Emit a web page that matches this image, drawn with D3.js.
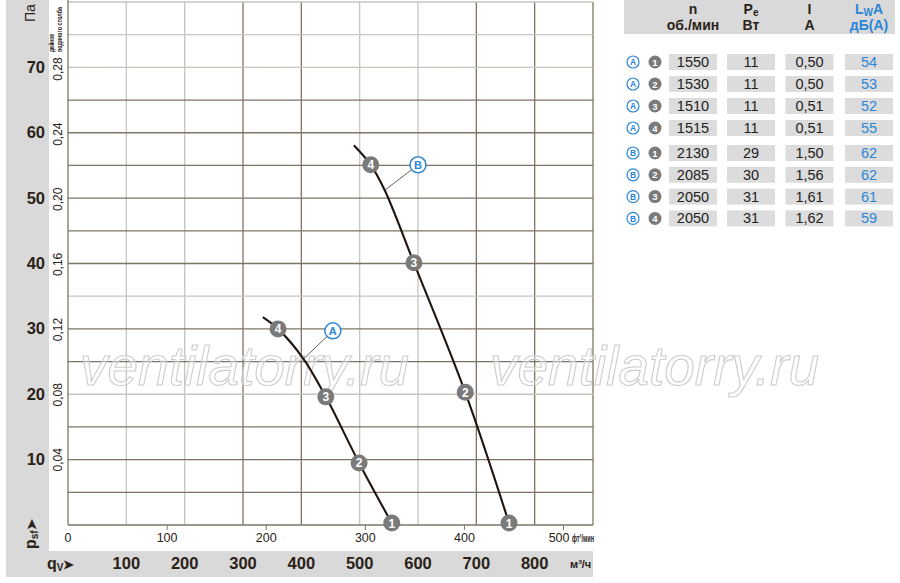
<!DOCTYPE html>
<html><head><meta charset="utf-8">
<script src="https://cdn.jsdelivr.net/npm/d3@7"></script>
<style>
html,body{margin:0;padding:0;background:#fff;}
svg{display:block;font-family:"Liberation Sans",Arial,sans-serif;}
.nar{font-family:"Liberation Sans Narrow","Liberation Sans",sans-serif;}
</style></head>
<body>
<svg id="c" width="900" height="583"></svg>
<script>
// ---- data ----
const flowTicks = [100, 200, 300, 400, 500, 600, 700, 800];          // m³/h
const cfmTicks = [0, 100, 200, 300, 400, 500];                        // ft³/min
const paTicks = [10, 20, 30, 40, 50, 60, 70];                         // Pa
const inwgTicks = [0.04, 0.08, 0.12, 0.16, 0.20, 0.24, 0.28];         // in. water
const inwgLabels = ["0,04", "0,08", "0,12", "0,16", "0,20", "0,24", "0,28"];

// curve A (flow m³/h, pressure Pa)
const curveAFlow = [334, 360, 403, 442, 499, 555];
const curveAPres = [31.8, 30.0, 25.5, 19.6, 9.5, 0.3];
const curveAPointNo = [null, 4, null, 3, 2, 1];
// curve B
const curveBFlow = [490, 519, 543, 593, 681, 756];
const curveBPres = [58.1, 55.1, 51.2, 40.1, 20.3, 0.3];
const curveBPointNo = [null, 4, null, 3, 2, 1];

// label callouts
const calloutNames = ["A", "B"];
const calloutFlow = [454, 600];
const calloutPres = [29.7, 55.1];
const calloutTargetFlow = [405, 543];
const calloutTargetPres = [25.5, 51.2];

// table
const rowCurve = ["A", "A", "A", "A", "B", "B", "B", "B"];
const rowPoint = [1, 2, 3, 4, 1, 2, 3, 4];
const rowSpeed = ["1550", "1530", "1510", "1515", "2130", "2085", "2050", "2050"];
const rowPower = ["11", "11", "11", "11", "29", "30", "31", "31"];
const rowCurrent = ["0,50", "0,50", "0,51", "0,51", "1,50", "1,56", "1,61", "1,62"];
const rowNoise = ["54", "53", "52", "55", "62", "62", "61", "59"];

// ---- drawing ----
const svg = d3.select("#c");
const BLUE = "#2a86d6", DARK = "#2a2218", GREY = "#d9d9d9", MARK = "#7a7a7a";
const GRID_D = "#7e7464", GRID_L = "#c9c4be";

const x = d3.scaleLinear().domain([0, 900]).range([68, 593]);
const y = d3.scaleLinear().domain([0, 80]).range([525, 2]);
const cfmToM3h = 1.699;

// grey bands
svg.append("rect").attr("x", 6).attr("y", 0).attr("width", 43).attr("height", 577).attr("fill", GREY);
svg.append("rect").attr("x", 6).attr("y", 551).attr("width", 587).attr("height", 26).attr("fill", GREY);

// grid
const g = svg.append("g");
const lightV = new Set([100, 200, 500, 600]);
const lightH = new Set([80, 75, 70, 35, 20]);
d3.range(100, 901, 100).forEach(v => {
  g.append("line").attr("x1", x(v)).attr("x2", x(v)).attr("y1", y(80)).attr("y2", y(0))
    .attr("stroke", lightV.has(v) ? GRID_L : GRID_D).attr("stroke-width", 1.3);
});
d3.range(5, 81, 5).forEach(v => {
  g.append("line").attr("x1", x(0)).attr("x2", x(900)).attr("y1", y(v)).attr("y2", y(v))
    .attr("stroke", lightH.has(v) ? GRID_L : GRID_D).attr("stroke-width", 1.3);
});
g.append("line").attr("x1", x(0)).attr("x2", x(0)).attr("y1", 0).attr("y2", y(0)).attr("stroke", GRID_D).attr("stroke-width", 1.3);
g.append("line").attr("x1", x(0)).attr("x2", x(900)).attr("y1", y(0)).attr("y2", y(0)).attr("stroke", GRID_D).attr("stroke-width", 1.3);

// watermark
["ventilatorry.ru", "ventilatorry.ru"].forEach((t, i) => {
  svg.append("text").attr("x", i === 0 ? 80 : 490).attr("y", 385)
    .attr("font-size", 55).attr("font-style", "italic").attr("fill", "rgba(255,255,255,0.35)")
    .attr("stroke", "#cdcdcd").attr("stroke-width", 1.1).text(t);
});

// cfm axis
const cfmAxis = svg.append("g");
cfmTicks.forEach((v, i) => {
  const px = x(v * cfmToM3h);
  const last = i === cfmTicks.length - 1;
  if (v > 0) cfmAxis.append("line").attr("x1", px).attr("x2", px).attr("y1", 525).attr("y2", 530).attr("stroke", GRID_D);
  cfmAxis.append("text").attr("class", "nar").attr("x", last ? px + 6 : px).attr("y", 542)
    .attr("text-anchor", last ? "end" : "middle")
    .attr("font-size", 12.5).attr("fill", DARK).text(v);
});
cfmAxis.append("text").attr("class", "nar").attr("x", x(500 * cfmToM3h) + 8.5).attr("y", 542).attr("font-size", 10.5)
  .attr("font-weight", "bold").attr("fill", DARK).attr("textLength", 22).attr("lengthAdjust", "spacingAndGlyphs").text("фт³/мин");

// flow axis labels in band
flowTicks.forEach(v => {
  svg.append("text").attr("class", "nar").attr("x", x(v)).attr("y", 569).attr("text-anchor", "middle")
    .attr("font-size", 16.5).attr("font-weight", "bold").attr("fill", DARK).text(v);
});
svg.append("text").attr("class", "nar").attr("x", 570).attr("y", 568).attr("font-size", 11).attr("font-weight", "bold")
  .attr("fill", DARK).text("м³/ч");
const qv = svg.append("text").attr("class", "nar").attr("x", 47).attr("y", 569).attr("font-size", 16).attr("font-weight", "bold").attr("fill", DARK);
qv.append("tspan").text("q");
qv.append("tspan").attr("font-size", 10).attr("dy", 2).text("V");
qv.append("tspan").attr("dy", -2).attr("font-size", 13).text("➤");

// Pa labels
paTicks.forEach(v => {
  svg.append("text").attr("class", "nar").attr("x", 45).attr("y", y(v) + 5.5).attr("text-anchor", "end")
    .attr("font-size", 16.5).attr("font-weight", "bold").attr("fill", DARK).text(v);
});
inwgTicks.forEach((v, i) => {
  const py = y(v * 249.09);
  svg.append("text").attr("class", "nar").attr("transform", `translate(62,${py}) rotate(-90)`).attr("text-anchor", "middle")
    .attr("font-size", 12).attr("fill", DARK).text(inwgLabels[i]);
});
svg.append("text").attr("class", "nar").attr("transform", "translate(35,22) rotate(-90)").attr("font-size", 14).attr("fill", DARK).text("Па");
svg.append("text").attr("class", "nar").attr("transform", "translate(54,52) rotate(-90)").attr("font-size", 7.5).attr("font-weight", "bold")
  .attr("fill", DARK).attr("textLength", 18).attr("lengthAdjust", "spacingAndGlyphs").text("дюймов");
svg.append("text").attr("class", "nar").attr("transform", "translate(61.5,52) rotate(-90)").attr("font-size", 7.5).attr("font-weight", "bold")
  .attr("fill", DARK).attr("textLength", 45).attr("lengthAdjust", "spacingAndGlyphs").text("водяного столба");
const psf = svg.append("text").attr("class", "nar").attr("transform", "translate(36,549) rotate(-90)").attr("font-size", 16)
  .attr("font-weight", "bold").attr("fill", DARK);
psf.append("tspan").text("p");
psf.append("tspan").attr("font-size", 10).attr("dy", 2).text("sf");
psf.append("tspan").attr("dy", -2).attr("font-size", 13).text("➤");

// curves
const line = d3.line().x(d => x(d[0])).y(d => y(d[1])).curve(d3.curveCatmullRom.alpha(0.5));
const curves = [
  [curveAFlow, curveAPres, curveAPointNo],
  [curveBFlow, curveBPres, curveBPointNo]
];
curves.forEach(([f, p]) => {
  svg.append("path").datum(f.map((v, i) => [v, p[i]])).attr("d", line)
    .attr("fill", "none").attr("stroke", "#1e1510").attr("stroke-width", 2.1);
});
// callouts
calloutNames.forEach((n, i) => {
  svg.append("line").attr("x1", x(calloutFlow[i])).attr("y1", y(calloutPres[i]))
    .attr("x2", x(calloutTargetFlow[i])).attr("y2", y(calloutTargetPres[i]))
    .attr("stroke", "#3a3530").attr("stroke-width", 0.8);
  svg.append("circle").attr("cx", x(calloutFlow[i])).attr("cy", y(calloutPres[i])).attr("r", 8)
    .attr("fill", "#fff").attr("stroke", BLUE).attr("stroke-width", 1.5);
  svg.append("text").attr("x", x(calloutFlow[i])).attr("y", y(calloutPres[i]) + 4).attr("text-anchor", "middle")
    .attr("font-size", 11).attr("font-weight", "bold").attr("fill", BLUE).text(n);
});
// point markers
curves.forEach(([f, p, nos]) => {
  nos.forEach((n, i) => {
    if (n == null) return;
    svg.append("circle").attr("cx", x(f[i])).attr("cy", y(p[i])).attr("r", 8.5).attr("fill", MARK);
    svg.append("text").attr("x", x(f[i])).attr("y", y(p[i]) + 4.5).attr("text-anchor", "middle")
      .attr("font-size", 12).attr("font-weight", "bold").attr("fill", "#fff").text(n);
  });
});

// ---- table ----
const t = svg.append("g");
t.append("rect").attr("x", 624).attr("y", 0).attr("width", 271).attr("height", 34).attr("fill", GREY);
const colX = [693, 751, 809.5, 869];
const colW = 48;
function head(xc, top, bottom, color, sub) {
  const a = t.append("text").attr("class", "nar").attr("x", xc).attr("y", 14).attr("text-anchor", "middle").attr("font-size", 14)
    .attr("font-weight", "bold").attr("fill", color);
  if (sub) {
    a.append("tspan").text(top[0]);
    a.append("tspan").attr("font-size", 10).attr("dy", 2).text(sub);
    a.append("tspan").attr("dy", -2).text(top.slice(1));
  } else a.text(top);
  t.append("text").attr("class", "nar").attr("x", xc).attr("y", 30).attr("text-anchor", "middle").attr("font-size", 14)
    .attr("font-weight", "bold").attr("fill", color).text(bottom);
}
head(colX[0], "n", "об./мин", DARK);
head(colX[1], "P", "Вт", DARK, "e");
head(colX[2], "I", "A", DARK);
head(colX[3], "LA", "дБ(А)", BLUE, "W");

const rowY = i => (i < 4 ? 62 + i * 22 : 153 + (i - 4) * 21.8);
rowCurve.forEach((c, i) => {
  const yc = rowY(i);
  t.append("circle").attr("cx", 633).attr("cy", yc).attr("r", 6).attr("fill", "#fff").attr("stroke", BLUE).attr("stroke-width", 1.2);
  t.append("text").attr("x", 633).attr("y", yc + 3.2).attr("text-anchor", "middle").attr("font-size", 8.5)
    .attr("font-weight", "bold").attr("fill", BLUE).text(c);
  t.append("circle").attr("cx", 655).attr("cy", yc).attr("r", 6.5).attr("fill", MARK);
  t.append("text").attr("x", 655).attr("y", yc + 3.5).attr("text-anchor", "middle").attr("font-size", 9.5)
    .attr("font-weight", "bold").attr("fill", "#fff").text(rowPoint[i]);
  const vals = [rowSpeed[i], rowPower[i], rowCurrent[i], rowNoise[i]];
  vals.forEach((v, j) => {
    t.append("rect").attr("x", colX[j] - colW / 2).attr("y", yc - 8).attr("width", colW).attr("height", 16).attr("fill", "#dcdcdc");
    t.append("text").attr("class", "nar").attr("x", colX[j]).attr("y", yc + 5).attr("text-anchor", "middle").attr("font-size", 14.5)
      .attr("fill", j === 3 ? BLUE : "#222").text(v);
  });
});
</script>
</body></html>
